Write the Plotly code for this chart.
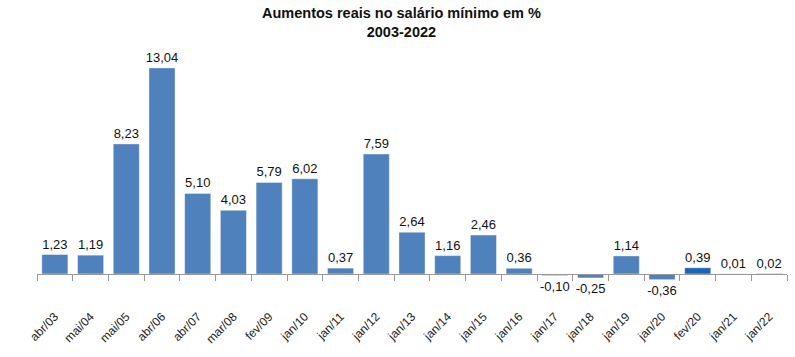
import plotly.graph_objects as go

categories = ["abr/03", "mai/04", "mai/05", "abr/06", "abr/07", "mar/08", "fev/09", "jan/10",
              "jan/11", "jan/12", "jan/13", "jan/14", "jan/15", "jan/16", "jan/17", "jan/18",
              "jan/19", "jan/20", "fev/20", "jan/21", "jan/22"]
values = [1.23, 1.19, 8.23, 13.04, 5.10, 4.03, 5.79, 6.02, 0.37, 7.59, 2.64, 1.16, 2.46, 0.36,
          -0.10, -0.25, 1.14, -0.36, 0.39, 0.01, 0.02]
colors = ["#4F81BD"] * 18 + ["#1C64B4", "#B0403C", "#2B3F6B"]
labels = [f"{v:.2f}".replace(".", ",") for v in values]

ymin, ymax = -2.09, 13.54
zero_pos = (0 - ymin) / (ymax - ymin)

fig = go.Figure(go.Bar(
    x=categories, y=values,
    marker=dict(color=colors, line=dict(color="rgba(255,255,255,0.4)", width=1)),
    text=labels, textposition="outside", cliponaxis=False, constraintext="none",
    textfont=dict(family="Liberation Sans, Arial", size=13, color="#111"),
))
fig.update_layout(
    width=795, height=357,
    margin=dict(l=37, r=8, t=60, b=50, autoexpand=False),
    plot_bgcolor="white", paper_bgcolor="white",
    bargap=0.27,
    showlegend=False,
    annotations=[dict(text="<b>Aumentos reais no salário mínimo em %<br>2003-2022</b>",
                      xref="paper", yref="paper", x=0.486, y=1.232,
                      xanchor="center", yanchor="top", showarrow=False,
                      font=dict(family="Liberation Sans, Arial", size=14.5, color="#111"))],
    xaxis=dict(anchor="free", position=zero_pos, showline=True, linecolor="#999",
               linewidth=1, ticks="outside", tickson="boundaries", ticklen=6,
               tickcolor="#999", tickangle=-45, ticklabelstandoff=30, automargin=False,
               tickfont=dict(family="Liberation Sans, Arial", size=12, color="#222"),
               showgrid=False),
    yaxis=dict(range=[ymin, ymax], visible=False, showgrid=False, zeroline=False,
               automargin=False),
)
fig.write_html("out.html", post_script="document.body.style.margin='0';",
               config={"displayModeBar": False})
